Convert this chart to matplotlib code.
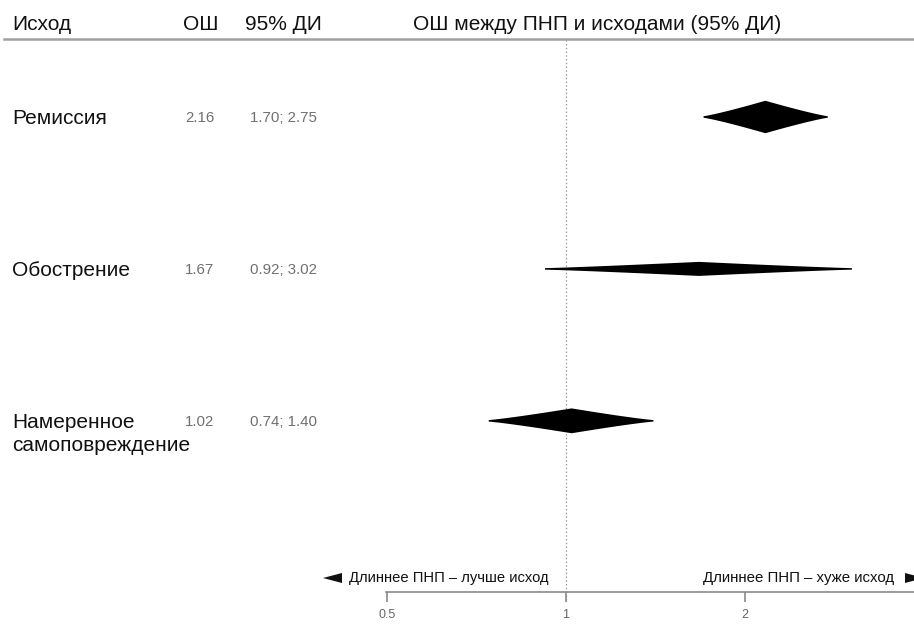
import numpy as np
import matplotlib
matplotlib.use("Agg")
import matplotlib.pyplot as plt
from matplotlib.transforms import blended_transform_factory, offset_copy
from matplotlib.lines import Line2D
from matplotlib.patches import Polygon

plt.rcParams['font.family'] = ['Liberation Sans', 'DejaVu Sans']

# ---- data ----
outcomes = ["Ремиссия", "Обострение", "Намеренное\nсамоповреждение"]
or_values = [2.16, 1.67, 1.02]
ci_low = [1.70, 0.92, 0.74]
ci_high = [2.75, 3.02, 1.40]
or_labels = ["2.16", "1.67", "1.02"]
ci_labels = ["1.70; 2.75", "0.92; 3.02", "0.74; 1.40"]
xticks = [0.5, 1, 2]
xtick_labels = ["0.5", "1", "2"]
headers = ["Исход", "ОШ", "95% ДИ", "ОШ между ПНП и исходами (95% ДИ)"]
left_note = "Длиннее ПНП – лучше исход"
right_note = "Длиннее ПНП – хуже исход"

W, H = 914, 626
fig = plt.figure(figsize=(W / 100, H / 100), dpi=100)
fig.patch.set_facecolor("white")

def fx(px):
    return px / W

def fy(py):
    return 1 - py / H

ax = fig.add_axes([fx(386), fy(592), fx(914 - 386), (592 - 39) / H])
ax.set_xscale("log")
ax.set_xlim(2 ** ((386 - 566) / 179), 2 ** ((914 - 566) / 179))
ax.set_ylim(3.13, -0.51)

for s in ["top", "left", "right"]:
    ax.spines[s].set_visible(False)
ax.spines["bottom"].set_color("#8a8a8a")
ax.spines["bottom"].set_linewidth(1.2)
ax.set_yticks([])
ax.set_xticks(xticks)
ax.set_xticklabels(xtick_labels)
ax.xaxis.set_minor_locator(matplotlib.ticker.NullLocator())
ax.tick_params(axis="x", direction="out", length=7.5, width=1.2, color="#8a8a8a",
               labelsize=9, labelcolor="#666666", pad=5)

# reference line at OR = 1
ax.axvline(1, ymin=-0.015, ymax=1, color="#9a9a9a", linestyle=(0, (1.2, 1.8)),
           linewidth=0.9, clip_on=False, zorder=1)

# diamonds (height ~ precision)
c = 0.0125
for i, (o, lo, hi) in enumerate(zip(or_values, ci_low, ci_high)):
    se = (np.log(hi) - np.log(lo)) / 3.92
    hh = c / se
    t = np.linspace(0, 1, 200)
    xr = np.exp(np.log(o) + t * (np.log(hi) - np.log(o)))
    xl = np.exp(np.log(o) + t * (np.log(lo) - np.log(o)))
    prof = hh * (1 - t) ** 1.15 + 0.005
    xs = np.concatenate([xl[::-1], xr])
    ps = np.concatenate([prof[::-1], prof])
    ax.fill_between(xs, i - ps, i + ps, color="black", linewidth=0, zorder=3)

# header
hx = [12, 183, 245, 413]
for x, h in zip(hx, headers):
    fig.text(fx(x), fy(24), h, fontsize=15, color="#111111", ha="left", va="center")
fig.add_artist(Line2D([fx(4), 1], [fy(39), fy(39)], color="#a0a0a0", linewidth=1.8))

# left table columns
bt = blended_transform_factory(fig.transFigure, ax.transData)
for i in range(len(outcomes)):
    for k, line in enumerate(outcomes[i].split("\n")):
        tr = offset_copy(bt, fig=fig, x=0, y=-23 * k, units="dots")
        fig.text(fx(12), i, line, transform=tr, fontsize=15, color="#111111",
                 ha="left", va="center_baseline")
    fig.text(fx(185), i, or_labels[i], transform=bt, fontsize=10.8, color="#707070",
             ha="left", va="center_baseline")
    fig.text(fx(250), i, ci_labels[i], transform=bt, fontsize=10.8, color="#707070",
             ha="left", va="center_baseline")

# direction notes
fig.text(fx(349), fy(578), left_note, fontsize=10.6, color="#111111", ha="left", va="center")
fig.text(fx(894), fy(578), right_note, fontsize=10.8, color="#111111", ha="right", va="center")
for pts in ([(323, 578), (342, 573), (342, 583)], [(924, 578), (905, 573), (905, 583)]):
    fig.add_artist(Polygon([(fx(px), fy(py)) for px, py in pts], closed=True,
                           transform=fig.transFigure, facecolor="#111111",
                           edgecolor="none"))

fig.savefig("out.png", dpi=100)
